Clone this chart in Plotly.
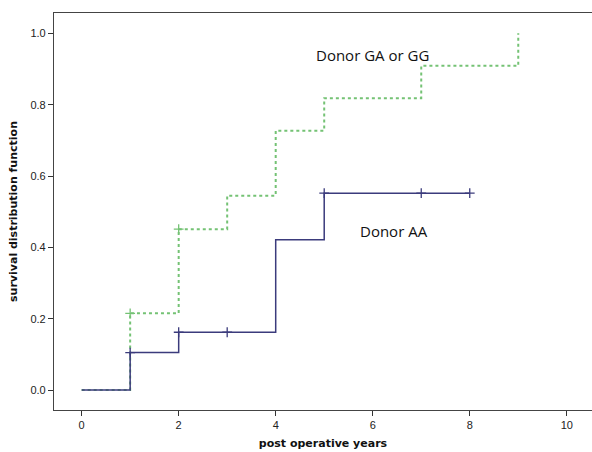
import plotly.graph_objects as go

# Kaplan-Meier style step data
aa_years = [0, 1, 2, 4, 5, 8]
aa_surv = [0.0, 0.105, 0.162, 0.421, 0.552, 0.552]
aa_cens_years = [1, 2, 3, 5, 7, 8]
aa_cens_surv = [0.105, 0.162, 0.162, 0.552, 0.552, 0.552]

ga_years = [0, 1, 2, 3, 4, 5, 7, 9]
ga_surv = [0.0, 0.215, 0.451, 0.545, 0.727, 0.818, 0.909, 1.0]
ga_cens_years = [1, 2]
ga_cens_surv = [0.215, 0.451]

x_ticks = [0, 2, 4, 6, 8, 10]
y_ticks = [0.0, 0.2, 0.4, 0.6, 0.8, 1.0]

blue = "#3b3b7c"
green = "#74c274"

fig = go.Figure()
fig.add_trace(go.Scatter(x=ga_years, y=ga_surv, mode="lines", line_shape="hv",
                         line=dict(color=green, width=2, dash="dot"), showlegend=False))
fig.add_trace(go.Scatter(x=ga_cens_years, y=ga_cens_surv, mode="markers",
                         marker=dict(symbol="cross-thin", size=7, line=dict(color=green, width=1.3)),
                         showlegend=False))
fig.add_trace(go.Scatter(x=aa_years, y=aa_surv, mode="lines", line_shape="hv",
                         line=dict(color=blue, width=1.5), showlegend=False))
fig.add_trace(go.Scatter(x=aa_cens_years, y=aa_cens_surv, mode="markers",
                         marker=dict(symbol="cross-thin", size=7, line=dict(color=blue, width=1.3)),
                         showlegend=False))

fig.add_annotation(x=5.99, y=0.94, text="Donor GA or GG", showarrow=False,
                   font=dict(family="Open Sans", size=15, color="#111"))
fig.add_annotation(x=6.44, y=0.446, text="Donor AA", showarrow=False,
                   font=dict(family="Open Sans", size=15, color="#111"))

axis_font = dict(family="Liberation Sans", size=11, color="#222")
fig.update_layout(
    width=592, height=452,
    margin=dict(l=54, r=0, t=13, b=42),
    paper_bgcolor="white", plot_bgcolor="white",
    xaxis=dict(range=[-0.57, 10.52], tickvals=x_ticks, ticks="outside", ticklen=5,
               tickcolor="#333", showline=True, linecolor="#444", linewidth=1.2, mirror=True,
               showgrid=False, zeroline=False, tickfont=axis_font,
               title=dict(text="<b>post operative years</b>", standoff=9,
                          font=dict(family="DejaVu Sans", size=11, color="#111"))),
    yaxis=dict(range=[-0.056, 1.057], tickvals=y_ticks, tickformat=".1f", ticks="outside",
               ticklen=5, tickcolor="#333", showline=True, linecolor="#444", linewidth=1.2,
               showgrid=False, zeroline=False, tickfont=axis_font,
               title=dict(text="<b>survival distribution function</b>", standoff=10,
                          font=dict(family="DejaVu Sans", size=11, color="#111"))),
)

fig.write_html("out.html", config={"displayModeBar": False},
               post_script="document.body.style.margin='0';document.body.style.overflow='hidden';")
